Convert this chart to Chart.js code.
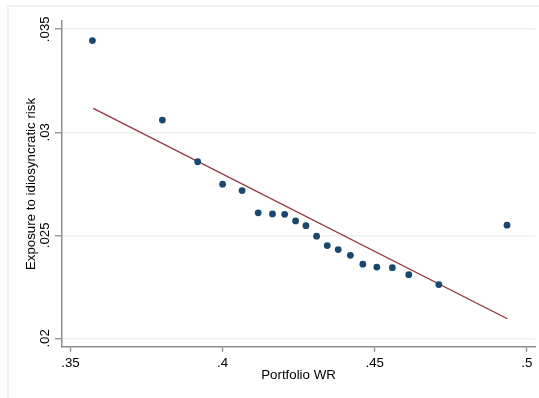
<!DOCTYPE html>
<html>
<head>
<meta charset="utf-8">
<script src="https://cdn.jsdelivr.net/npm/chart.js@4"></script>
<style>
  html, body { margin: 0; padding: 0; background: #fff; }
  canvas { display: block; }
</style>
</head>
<body>
<canvas id="chart" width="539" height="398"></canvas>
<script>
// portfolio WR (x) vs exposure to idiosyncratic risk (y)
const portfolioWR = [0.3572, 0.3802, 0.3918, 0.4000, 0.4064, 0.4117, 0.4164, 0.4204, 0.4240, 0.4274,
                     0.4309, 0.4344, 0.4380, 0.4420, 0.4461, 0.4507, 0.4558, 0.4612, 0.4711, 0.4935];
const idioRisk    = [0.03445, 0.03059, 0.02857, 0.02748, 0.02717, 0.02609, 0.02604, 0.02602, 0.02570, 0.02547,
                     0.02496, 0.02450, 0.02431, 0.02403, 0.02360, 0.02346, 0.02343, 0.02309, 0.02261, 0.02549];

// fitted line endpoints
const fitWR   = [0.3575, 0.4936];
const fitRisk = [0.03116, 0.02095];

const xTicks = [0.35, 0.40, 0.45, 0.50];
const xTickLabels = ['.35', '.4', '.45', '.5'];
const yTicks = [0.020, 0.025, 0.030, 0.035];
const yTickLabels = ['.02', '.025', '.03', '.035'];

const FONT = 'Liberation Sans, Arial, sans-serif';
const AXIS = '#8e8e8e';

const frame = {
    id: 'frame',
    beforeDraw(chart) {
        const c = chart.ctx;
        c.save();
        c.fillStyle = '#fff';
        c.fillRect(0, 0, chart.width, chart.height);
        c.strokeStyle = '#e3eaec';
        c.lineWidth = 1.5;
        c.strokeRect(8, 6, chart.width + 20, chart.height + 20);
        c.restore();
    }
};

new Chart(document.getElementById('chart'), {
    type: 'scatter',
    data: {
        datasets: [{
            data: portfolioWR.map((x, i) => ({ x: x, y: idioRisk[i] })),
            backgroundColor: '#1a476f',
            borderColor: '#1a476f',
            pointRadius: 3.4,
            pointBorderWidth: 0,
            order: 1
        }, {
            type: 'line',
            data: fitWR.map((x, i) => ({ x: x, y: fitRisk[i] })),
            borderColor: '#90353b',
            borderWidth: 1.3,
            pointRadius: 0,
            fill: false,
            order: 2
        }]
    },
    options: {
        responsive: false,
        animation: false,
        layout: { padding: { top: 21, right: 4, left: 0, bottom: 0 } },
        plugins: { legend: { display: false }, tooltip: { enabled: false } },
        scales: {
            x: {
                type: 'linear',
                min: 0.3472,
                max: 0.5027,
                afterBuildTicks: (s) => { s.ticks = xTicks.map(v => ({ value: v })); },
                afterFit: (s) => { s.height = 51; },
                ticks: {
                    callback: (v) => xTickLabels[xTicks.indexOf(v)],
                    color: '#000',
                    font: { family: FONT, size: 13.3 },
                    padding: 3,
                    maxRotation: 0
                },
                grid: { drawOnChartArea: false, drawTicks: true, tickLength: 5, tickColor: AXIS, tickWidth: 1.3 },
                border: { display: true, color: AXIS, width: 1.5 },
                title: {
                    display: true,
                    text: 'Portfolio WR',
                    color: '#000',
                    font: { family: FONT, size: 13.3 },
                    padding: { top: 0, bottom: 14.5 }
                }
            },
            y: {
                type: 'linear',
                min: 0.01958,
                max: 0.0354,
                afterBuildTicks: (s) => { s.ticks = yTicks.map(v => ({ value: v })); },
                afterFit: (s) => { s.width = 62; },
                ticks: {
                    callback: (v) => yTickLabels[yTicks.indexOf(v)],
                    color: '#000',
                    font: { family: FONT, size: 13.3 },
                    minRotation: 90,
                    maxRotation: 90,
                    crossAlign: 'center',
                    padding: -3
                },
                grid: { color: '#eaf1f3', lineWidth: 1.5, drawTicks: true, tickLength: 7, tickColor: AXIS, tickWidth: 1.3 },
                border: { display: true, color: AXIS, width: 1.5 },
                title: {
                    display: true,
                    text: 'Exposure to idiosyncratic risk',
                    color: '#000',
                    font: { family: FONT, size: 13.3 },
                    padding: { top: 23, bottom: 0 }
                }
            }
        }
    },
    plugins: [frame]
});
</script>
</body>
</html>
